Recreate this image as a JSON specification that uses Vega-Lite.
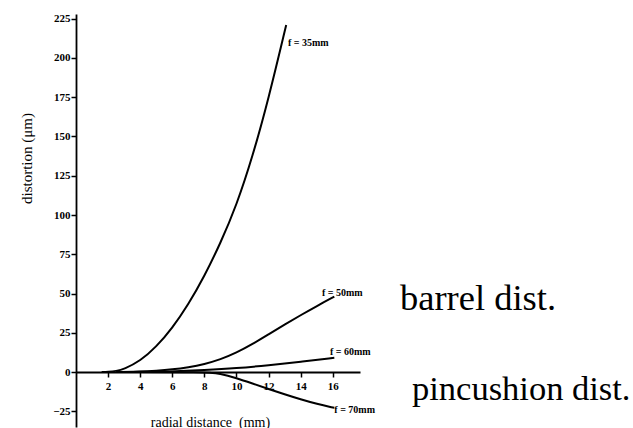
{
  "$schema": "https://vega.github.io/schema/vega-lite/v6.json",
  "width": 284,
  "height": 413,
  "autosize": {"type": "none"},
  "padding": {"left": 76, "top": 14, "right": 273, "bottom": 1},
  "background": "white",
  "config": {
    "view": {"stroke": null},
    "font": "'Liberation Serif', 'Times New Roman', serif"
  },
  "datasets": {
    "curves": [
      {"f": "35", "r": 1.6, "d": 0},
      {"f": "35", "r": 2.0, "d": 0.1},
      {"f": "35", "r": 2.5, "d": 0.6},
      {"f": "35", "r": 3, "d": 1.9},
      {"f": "35", "r": 4, "d": 7},
      {"f": "35", "r": 5, "d": 16},
      {"f": "35", "r": 6, "d": 28},
      {"f": "35", "r": 7, "d": 43},
      {"f": "35", "r": 8, "d": 61},
      {"f": "35", "r": 9, "d": 82},
      {"f": "35", "r": 10, "d": 106},
      {"f": "35", "r": 11, "d": 137},
      {"f": "35", "r": 12, "d": 174},
      {"f": "35", "r": 13.1, "d": 221},
      {"f": "50", "r": 2.5, "d": 0},
      {"f": "50", "r": 4, "d": 0.3},
      {"f": "50", "r": 5, "d": 0.8},
      {"f": "50", "r": 6, "d": 1.6},
      {"f": "50", "r": 7, "d": 3},
      {"f": "50", "r": 8, "d": 5},
      {"f": "50", "r": 9, "d": 8},
      {"f": "50", "r": 10, "d": 12.3},
      {"f": "50", "r": 11, "d": 17.8},
      {"f": "50", "r": 12, "d": 24},
      {"f": "50", "r": 13, "d": 30.2},
      {"f": "50", "r": 14, "d": 36.2},
      {"f": "50", "r": 15, "d": 42},
      {"f": "50", "r": 16.1, "d": 48},
      {"f": "60", "r": 3, "d": 0},
      {"f": "60", "r": 6, "d": 0.3},
      {"f": "60", "r": 8, "d": 1.2},
      {"f": "60", "r": 10, "d": 2.4},
      {"f": "60", "r": 12, "d": 4.3},
      {"f": "60", "r": 14, "d": 6.5},
      {"f": "60", "r": 16.1, "d": 9.1},
      {"f": "70", "r": 3, "d": 0},
      {"f": "70", "r": 8, "d": 0},
      {"f": "70", "r": 9, "d": -1},
      {"f": "70", "r": 10, "d": -3.8},
      {"f": "70", "r": 11, "d": -7.3},
      {"f": "70", "r": 12, "d": -10.8},
      {"f": "70", "r": 13, "d": -14.2},
      {"f": "70", "r": 14, "d": -17.4},
      {"f": "70", "r": 15, "d": -20.3},
      {"f": "70", "r": 16.1, "d": -22.8}
    ],
    "labels": [
      {"label": "f = 35mm", "r": 13.21, "d": 209.5},
      {"label": "f = 50mm", "r": 15.33, "d": 50.3},
      {"label": "f = 60mm", "r": 15.83, "d": 12.7},
      {"label": "f = 70mm", "r": 16.1, "d": -24.2}
    ],
    "notes": [
      {"label": "barrel dist.", "r": 20.19, "d": 39.5},
      {"label": "pincushion dist.", "r": 20.94, "d": -17.8}
    ]
  },
  "layer": [
    {
      "data": {"name": "curves"},
      "mark": {"type": "line", "color": "black", "strokeWidth": 2, "interpolate": "basis"},
      "encoding": {
        "x": {
          "field": "r", "type": "quantitative",
          "scale": {"domain": [0, 17.7], "nice": false, "zero": false},
          "axis": {
            "orient": "bottom",
            "offset": -55,
            "values": [2, 4, 6, 8, 10, 12, 14, 16],
            "grid": false,
            "domainColor": "black",
            "domainWidth": 1.8,
            "tickColor": "black",
            "tickWidth": 1.5,
            "tickSize": 5,
            "labelFont": "'Liberation Serif', 'Times New Roman', serif",
            "labelFontSize": 11,
            "labelFontWeight": "bold",
            "labelColor": "black",
            "labelPadding": 3,
            "labelFlush": false,
            "title": "radial distance\u00a0 (mm)",
            "titleFont": "'Liberation Serif', 'Times New Roman', serif",
            "titleFontSize": 14,
            "titleFontWeight": "normal",
            "titleColor": "black",
            "titleX": 134,
            "titleY": 54,
            "titleBaseline": "alphabetic",
            "titleAlign": "center"
          }
        },
        "y": {
          "field": "d", "type": "quantitative",
          "scale": {"domain": [-35, 228], "nice": false, "zero": false},
          "axis": {
            "orient": "left",
            "values": [-25, 0, 25, 50, 75, 100, 125, 150, 175, 200, 225],
            "grid": false,
            "domainColor": "black",
            "domainWidth": 1.8,
            "tickColor": "black",
            "tickWidth": 1.5,
            "tickSize": 5,
            "labelFont": "'Liberation Serif', 'Times New Roman', serif",
            "labelFontSize": 11,
            "labelFontWeight": "bold",
            "labelColor": "black",
            "labelPadding": 1,
            "labelFlush": false,
            "title": "distortion (μm)",
            "titleFont": "'Liberation Serif', 'Times New Roman', serif",
            "titleFontSize": 15,
            "titleFontWeight": "normal",
            "titleColor": "black",
            "titleAngle": -90,
            "titleX": -50,
            "titleY": 144,
            "titleBaseline": "middle",
            "titleAlign": "center"
          }
        },
        "detail": {"field": "f"}
      }
    },
    {
      "data": {"name": "labels"},
      "mark": {"type": "text", "align": "left", "baseline": "middle", "font": "'Liberation Serif', 'Times New Roman', serif", "fontSize": 10, "fontWeight": "bold", "color": "black"},
      "encoding": {
        "x": {"field": "r", "type": "quantitative"},
        "y": {"field": "d", "type": "quantitative"},
        "text": {"field": "label"}
      }
    },
    {
      "data": {"name": "notes"},
      "transform": [{"filter": "datum.label == 'barrel dist.'"}],
      "mark": {"type": "text", "align": "left", "baseline": "alphabetic", "font": "'Liberation Serif', 'Times New Roman', serif", "fontSize": 36.5, "color": "black"},
      "encoding": {
        "x": {"field": "r", "type": "quantitative"},
        "y": {"field": "d", "type": "quantitative"},
        "text": {"field": "label"}
      }
    },
    {
      "data": {"name": "notes"},
      "transform": [{"filter": "datum.label == 'pincushion dist.'"}],
      "mark": {"type": "text", "align": "left", "baseline": "alphabetic", "font": "'Liberation Serif', 'Times New Roman', serif", "fontSize": 34.5, "color": "black"},
      "encoding": {
        "x": {"field": "r", "type": "quantitative"},
        "y": {"field": "d", "type": "quantitative"},
        "text": {"field": "label"}
      }
    }
  ]
}
